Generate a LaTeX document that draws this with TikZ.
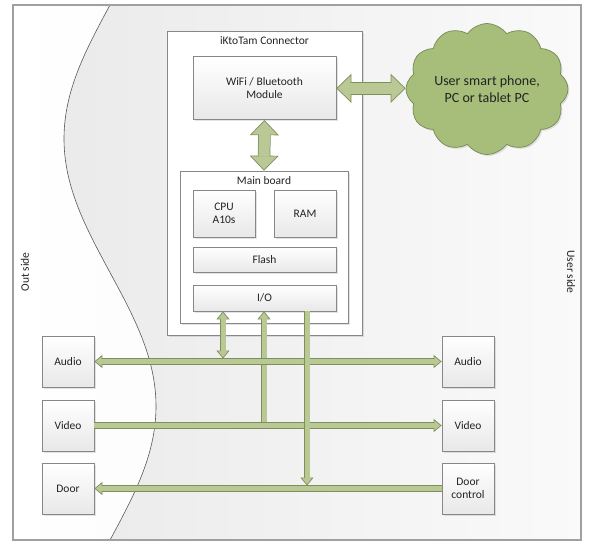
\documentclass[tikz,border=0pt]{standalone}
\usepackage{fontspec}
\setmainfont{Carlito}
\usetikzlibrary{arrows.meta,shapes.symbols,shadows}
\definecolor{arrF}{RGB}{186,200,150}
\definecolor{arrB}{RGB}{125,144,90}
\definecolor{cloudF}{RGB}{166,190,122}
\definecolor{cloudB}{RGB}{118,138,84}
\definecolor{boxB}{RGB}{135,135,135}
\definecolor{frameB}{RGB}{160,160,160}
\definecolor{txt}{RGB}{35,35,35}
\begin{document}
\begin{tikzpicture}[x=1pt,y=-1pt,
  font=\fontsize{11.5}{13}\selectfont, text=txt,
  shad/.style={drop shadow={shadow xshift=1.5pt, shadow yshift=-1.5pt, opacity=0.22}},
  box/.style={draw=boxB, line width=0.7pt, top color=white, bottom color=black!9, shad, align=center, inner sep=2pt},
  panel/.style={draw=boxB, line width=0.7pt, fill=white, shad},
  sbox/.style={box, minimum width=52pt, minimum height=51pt},
  Bs/.tip={Triangle[width=13pt,length=8pt,line width=0.7pt,fill=arrF]},
  Bl/.tip={Triangle[width=29pt,length=15pt,line width=0.7pt,fill=arrF]},
  bus/.style 2 args={draw=arrB, line width=6.5pt, postaction={draw=arrF, line width=5pt, arrows=-, shorten <=#1, shorten >=#2}},
  fat/.style 2 args={draw=arrB, line width=12.5pt, postaction={draw=arrF, line width=11pt, arrows=-, shorten <=#1, shorten >=#2}},
]
% page and background
\fill[white] (0,0) rectangle (592,550);
\useasboundingbox (0,0) rectangle (592,550);
\shade[left color=white, right color=black!4] (13,5) rectangle (581,540);
\shade[left color=black!8, right color=black!2]
  (110,5) .. controls (85.8,49.7) and (64,90.6) .. (64,138.75)
  .. controls (64,186.9) and (85.8,227.8) .. (110,272.5)
  .. controls (134.2,317.2) and (156,358.1) .. (156,406.25)
  .. controls (156,454.4) and (134.2,495.3) .. (110,540)
  -- (581,540) -- (581,5) -- cycle;
\draw[black!65, line width=0.6pt]
  (110,5) .. controls (85.8,49.7) and (64,90.6) .. (64,138.75)
  .. controls (64,186.9) and (85.8,227.8) .. (110,272.5)
  .. controls (134.2,317.2) and (156,358.1) .. (156,406.25)
  .. controls (156,454.4) and (134.2,495.3) .. (110,540);
\draw[frameB, line width=1.4pt] (13,5) rectangle (581,540);

\node[rotate=90] (outside) at (25,272) {Out side};
\node[rotate=-90] (userside) at (571,272) {User side};

% connector
\node[panel, minimum width=195pt, minimum height=304pt] (conn) at (264.5,183) {};
\node (conntitle) at (264.5,41) {iKtoTam Connector};
\node[box, minimum width=143pt, minimum height=63pt] (wifi) at (264.5,88.3) {WiFi / Bluetooth\\Module};
\node[panel, minimum width=168pt, minimum height=152pt] (mb) at (264,247) {};
\node (mbtitle) at (264,181) {Main board};
\node[box, minimum width=62pt, minimum height=47pt] (cpu) at (224,213.5) {CPU\\A10s};
\node[box, minimum width=62pt, minimum height=47pt] (ram) at (305,213.5) {RAM};
\node[box, minimum width=143pt, minimum height=25pt] (flash) at (264.5,259.5) {Flash};
\node[box, minimum width=143pt, minimum height=26pt] (io) at (264.5,298) {I/O};

% cloud
\node[cloud, cloud puffs=12, cloud puff arc=110, aspect=1.3, draw=cloudB, fill=cloudF,
  line width=0.7pt, minimum width=162pt, minimum height=127pt, inner sep=0pt,
  font=\fontsize{14}{16.5}\selectfont, align=center, shad] (cloud) at (487,89)
  {User smart phone,\\PC or tablet PC};

% side boxes
\node[sbox] (audioL) at (68,361.5) {Audio};
\node[sbox] (videoL) at (68,425.5) {Video};
\node[sbox] (doorL) at (68,488.5) {Door};
\node[sbox] (audioR) at (468,361.5) {Audio};
\node[sbox] (videoR) at (468,425.5) {Video};
\node[sbox] (doorR) at (468,488.5) {Door\\control};

\coordinate (c1) at (223,0);
\coordinate (c2) at (264,0);
\coordinate (c3) at (307,0);

% connectors
\draw[fat={14pt}{14pt}, {Bl}-{Bl}] (wifi.south) -- (mb.north);
\draw[fat={14pt}{14pt}, {Bl}-{Bl}] (wifi.east) -- (wifi.east -| cloud.west);

\draw[bus={0pt}{7pt}, -{Bs}] (c2 |- videoL.east) -- (c2 |- io.south);
\draw[bus={0pt}{7pt}, -{Bs}] (videoL.east) -- (videoR.west);
\draw[bus={7pt}{7pt}, {Bs}-{Bs}] (audioL.east) -- (audioR.west);
\draw[bus={0pt}{7pt}, -{Bs}] (doorR.west) -- (doorL.east);
\draw[bus={7pt}{10pt}, {Bs}-{Bs}, shorten >=3pt] (c1 |- io.south) -- (c1 |- audioL.east);
\draw[bus={0pt}{10pt}, -{Bs}, shorten >=3pt] (c3 |- io.south) -- (c3 |- doorL.east);
\end{tikzpicture}
\end{document}
